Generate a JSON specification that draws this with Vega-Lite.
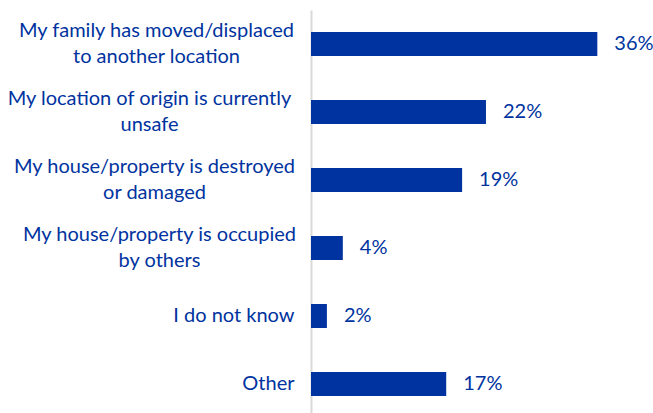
{
  "$schema": "https://vega.github.io/schema/vega-lite/v6.json",
  "autosize": "none",
  "width": 342,
  "height": 408,
  "padding": {"left": 311, "top": 10, "right": 0, "bottom": 0},
  "background": "white",
  "data": {
    "values": [
      {"reason": "My family has moved/displaced|to another location", "share": 0.36},
      {"reason": "My location of origin is currently|unsafe", "share": 0.22},
      {"reason": "My house/property is destroyed|or damaged", "share": 0.19},
      {"reason": "My house/property is occupied|by others", "share": 0.04},
      {"reason": "I do not know", "share": 0.02},
      {"reason": "Other", "share": 0.17}
    ]
  },
  "config": {
    "view": {"stroke": null},
    "font": "Lato"
  },
  "encoding": {
    "y": {
      "field": "reason",
      "type": "nominal",
      "sort": null,
      "title": null,
      "scale": {"paddingInner": 0.647, "paddingOuter": 0.324},
      "axis": {
        "domainColor": "#D9D9D9",
        "domainWidth": 2,
        "ticks": false,
        "tickSize": 0,
        "labelExpr": "split(datum.value, '|')",
        "labelFont": "Lato",
        "labelFontSize": 20,
        "labelColor": "#0033A0",
        "labelLineHeight": 26,
        "labelLimit": 400,
        "labelBaseline": "middle",
        "labelAlign": {
          "condition": {"test": "indexof(datum.value, '|') >= 0", "value": "center"},
          "value": "right"
        },
        "labelOffset": {
          "condition": {"test": "indexof(datum.value, '|') >= 0", "value": -13},
          "value": 0
        },
        "labelPadding": {
          "condition": [
            {"test": "datum.value === 'My family has moved/displaced|to another location'", "value": 155},
            {"test": "datum.value === 'My location of origin is currently|unsafe'", "value": 162},
            {"test": "datum.value === 'My house/property is destroyed|or damaged'", "value": 157},
            {"test": "datum.value === 'My house/property is occupied|by others'", "value": 152}
          ],
          "value": 17
        }
      }
    },
    "x": {
      "field": "share",
      "type": "quantitative",
      "scale": {"domain": [0, 0.43], "nice": false},
      "axis": null
    }
  },
  "layer": [
    {"mark": {"type": "bar", "color": "#0033A0"}},
    {
      "mark": {"type": "text", "align": "left", "baseline": "middle", "dx": 17, "font": "Lato", "fontSize": 20, "color": "#0033A0"},
      "encoding": {"text": {"field": "share", "type": "quantitative", "format": ".0%"}}
    }
  ]
}
